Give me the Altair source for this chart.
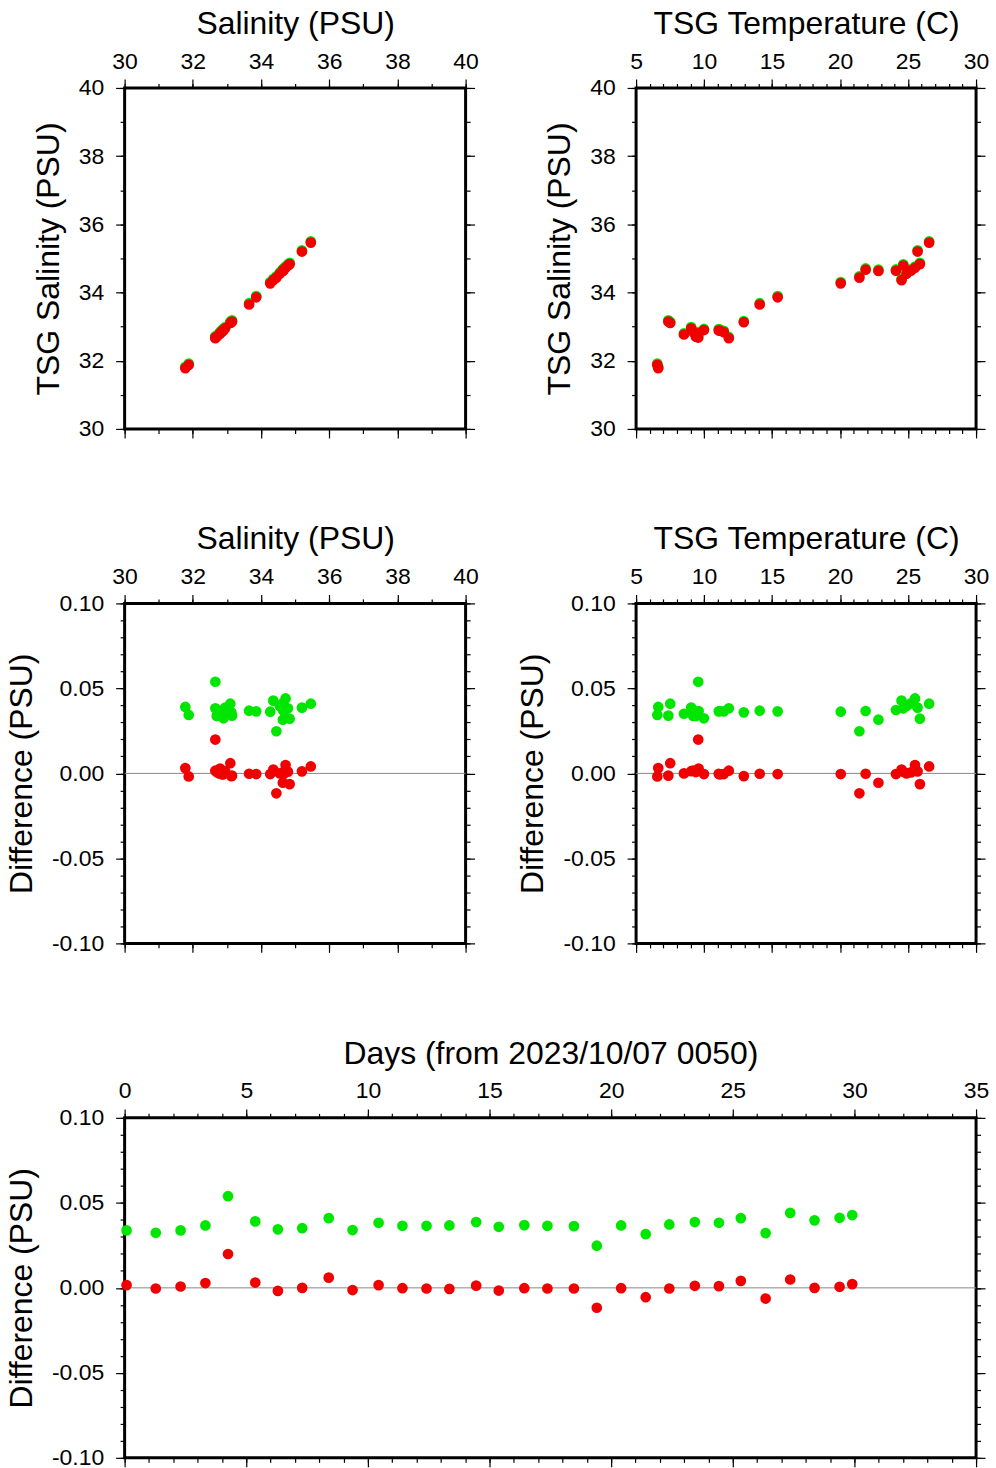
import altair as alt
import pandas as pd

# ---- data ----
days = [0.08, 1.28, 2.30, 3.32, 4.25, 5.37, 6.30, 7.30, 8.39, 9.37, 10.44, 11.42, 12.41,
        13.35, 14.45, 15.38, 16.43, 17.38, 18.47, 19.41, 20.41, 21.42, 22.39, 23.44,
        24.43, 25.33, 26.35, 27.36, 28.36, 29.39, 29.91]
diff_raw = [0.0338, 0.0324, 0.0338, 0.0367, 0.0539, 0.0391, 0.0344, 0.0351, 0.0410, 0.0340,
            0.0383, 0.0365, 0.0365, 0.0367, 0.0387, 0.0359, 0.0369, 0.0365, 0.0363, 0.0248,
            0.0367, 0.0316, 0.0373, 0.0387, 0.0383, 0.0410, 0.0322, 0.0441, 0.0397, 0.0412,
            0.0428]
diff_cor = [0.0016, -0.0004, 0.0008, 0.0028, 0.0199, 0.0031, -0.0018, 0.0000, 0.0060, -0.0013,
            0.0016, -0.0002, -0.0004, -0.0006, 0.0013, -0.0016, -0.0002, -0.0004, -0.0004,
            -0.0117, -0.0002, -0.0055, -0.0004, 0.0012, 0.0010, 0.0041, -0.0063, 0.0049,
            0.0000, 0.0006, 0.0022]
salinity = [32.84, 32.90, 32.70, 32.80, 32.66, 31.78, 31.88, 32.77, 33.10, 33.15, 32.66, 32.89,
            32.84, 32.88, 32.95, 33.13, 33.65, 33.86, 34.27, 34.45, 34.67, 34.64, 34.64, 35.20,
            34.79, 35.46, 34.84, 34.72, 34.55, 34.64, 34.36]
temperature = [9.20, 9.99, 9.40, 9.60, 9.57, 6.63, 6.56, 8.52, 7.51, 7.37, 11.82, 11.08, 11.45,
               11.16, 9.05, 12.92, 14.09, 15.41, 20.05, 21.42, 21.88, 22.82, 24.11, 25.70,
               24.65, 26.55, 25.87, 25.51, 24.89, 25.21, 24.52]

# ---- tick values ----
sal_ticks = [30, 32, 34, 36, 38, 40]
sal_minor = [30, 31, 32, 33, 34, 35, 36, 37, 38, 39, 40]
temp_ticks = [5, 10, 15, 20, 25, 30]
temp_minor = list(range(5, 31))
diff_ticks = [-0.10, -0.05, 0.0, 0.05, 0.10]
diff_minor = [round(-0.10 + 0.01 * i, 2) for i in range(21)]
day_ticks = [0, 5, 10, 15, 20, 25, 30, 35]
day_minor = list(range(0, 36))

df = pd.DataFrame({
    "day": days, "d_raw": diff_raw, "d_cor": diff_cor,
    "sal": salinity, "temp": temperature,
})
df["tsg_raw"] = df["sal"] + df["d_raw"]
df["tsg_cor"] = df["sal"] + df["d_cor"]

GREEN = "#00e600"
RED = "#f00000"
FONT = "Liberation Sans"
DOT = 115


def label_expr(dec):
    if dec == 0:
        return "format(datum.value, 'd')"
    return "(datum.value < -0.000001 ? '-' : '') + format(abs(datum.value), '.%df')" % dec


def make_axis(orient, vals, labels, title=None, major=True, dec=0):
    kw = dict(orient=orient, values=vals, labels=labels, ticks=True,
              tickSize=9 if major else 4.5, domain=False, grid=False,
              labelFlush=False, labelOverlap=False, title=title)
    if labels:
        kw["labelExpr"] = label_expr(dec)
    return alt.Axis(**kw)


def panel(xf, yg, yr, xdom, ydom, xt, xm, yt, ym, xtitle, ytitle, xdec, ydec, w, h, zero=False):
    xs = alt.Scale(domain=xdom, nice=False, zero=False)
    ys = alt.Scale(domain=ydom, nice=False, zero=False)
    base = alt.Chart(df)
    minor1 = base.mark_circle(opacity=0).encode(
        x=alt.X(xf, type="quantitative", scale=xs, axis=make_axis("top", xm, False, major=False)),
        y=alt.Y(yr, type="quantitative", scale=ys, axis=make_axis("left", ym, False, major=False)),
    )
    minor2 = base.mark_circle(opacity=0).encode(
        x=alt.X(xf, type="quantitative", scale=xs, axis=make_axis("bottom", xm, False, major=False)),
        y=alt.Y(yr, type="quantitative", scale=ys, axis=make_axis("right", ym, False, major=False)),
    )
    green = base.mark_circle(size=DOT, color=GREEN, opacity=1).encode(
        x=alt.X(xf, type="quantitative", scale=xs, axis=make_axis("top", xt, True, xtitle, dec=xdec)),
        y=alt.Y(yg, type="quantitative", scale=ys, axis=make_axis("left", yt, True, ytitle, dec=ydec)),
    )
    red = base.mark_circle(size=DOT, color=RED, opacity=1).encode(
        x=alt.X(xf, type="quantitative", scale=xs, axis=make_axis("bottom", xt, False)),
        y=alt.Y(yr, type="quantitative", scale=ys, axis=make_axis("right", yt, False)),
    )
    layers = [minor1, minor2]
    if zero:
        rule = alt.Chart(pd.DataFrame({"z": [0]})).mark_rule(color="#888888", strokeWidth=1).encode(
            y=alt.Y("z:Q", scale=ys, axis=None)
        )
        layers.append(rule)
    layers += [green, red]
    return alt.layer(*layers).resolve_axis(x="independent", y="independent").properties(width=w, height=h)


p1 = panel("sal", "tsg_raw", "tsg_cor", [30, 40], [30, 40], sal_ticks, sal_minor, sal_ticks, sal_minor,
           "Salinity (PSU)", "TSG Salinity (PSU)", 0, 0, 342, 342)
p2 = panel("temp", "tsg_raw", "tsg_cor", [5, 30], [30, 40], temp_ticks, temp_minor, sal_ticks, sal_minor,
           "TSG Temperature (C)", "TSG Salinity (PSU)", 0, 0, 341, 342)
p3 = panel("sal", "d_raw", "d_cor", [30, 40], [-0.1, 0.1], sal_ticks, sal_minor, diff_ticks, diff_minor,
           "Salinity (PSU)", "Difference (PSU)", 0, 2, 342, 341, zero=True)
p4 = panel("temp", "d_raw", "d_cor", [5, 30], [-0.1, 0.1], temp_ticks, temp_minor, diff_ticks, diff_minor,
           "TSG Temperature (C)", "Difference (PSU)", 0, 2, 341, 341, zero=True)
p5 = panel("day", "d_raw", "d_cor", [0, 35], [-0.1, 0.1], day_ticks, day_minor, diff_ticks, diff_minor,
           "Days (from 2023/10/07 0050)", "Difference (PSU)", 0, 2, 854, 341, zero=True)

row1 = alt.hconcat(p1, p2, spacing=171, bounds="flush")
row2 = alt.hconcat(p3, p4, spacing=171, bounds="flush")

chart = alt.vconcat(row1, row2, p5, spacing=78).properties(
    padding={"left": 4, "top": 3, "right": 5, "bottom": 2}
).configure_axis(
    labelFont=FONT, titleFont=FONT, labelFontSize=23, titleFontSize=32,
    titleFontWeight="normal", labelColor="black", titleColor="black",
    tickColor="black", tickWidth=1.2,
).configure_axisTop(
    labelPadding=6, titlePadding=10,
).configure_axisLeft(
    labelPadding=12, titlePadding=13,
).configure_view(
    stroke="black", strokeWidth=3,
)

chart.save("out.html", embed_options={"renderer": "svg", "actions": False})
